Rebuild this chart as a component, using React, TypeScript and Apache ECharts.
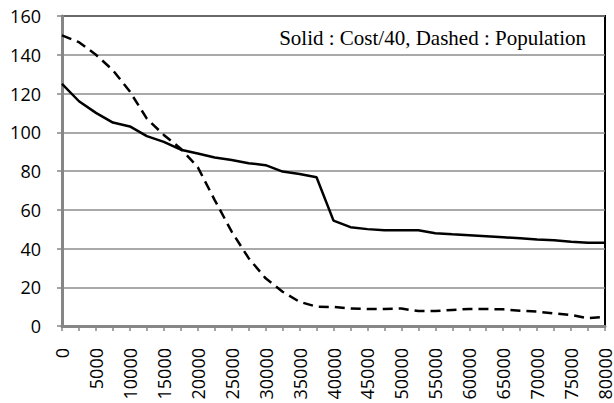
import React, { useEffect, useRef } from "react";
import * as echarts from "echarts";

const categories: string[] = [
  "0", "2500", "5000", "7500", "10000", "12500", "15000", "17500", "20000",
  "22500", "25000", "27500", "30000", "32500", "35000", "37500", "40000",
  "42500", "45000", "47500", "50000", "52500", "55000", "57500", "60000",
  "62500", "65000", "67500", "70000", "72500", "75000", "77500", "80000",
];

const costOver40: number[] = [
  125, 116, 110, 105, 103, 98, 95, 91, 89, 87, 85.7, 84, 83, 79.7, 78.5, 76.8,
  54.4, 51, 50, 49.4, 49.4, 49.4, 47.9, 47.3, 46.8, 46.3, 45.8, 45.3, 44.7,
  44.2, 43.5, 43, 43,
];

const population: number[] = [
  150, 146.5, 140, 132, 121, 107, 98.6, 91.5, 82, 65, 48.7, 35, 24.6, 17.7,
  12.5, 10, 9.8, 9.1, 8.8, 8.8, 9, 7.7, 7.7, 8.3, 8.8, 8.8, 8.6, 7.9, 7.4, 6.5,
  5.7, 4, 4.8,
];

const legendText = "Solid : Cost/40, Dashed : Population";

export default function App() {
  const ref = useRef<HTMLDivElement>(null);
  useEffect(() => {
    if (!ref.current) return;
    const chart = echarts.init(ref.current, null, { renderer: "svg" });
    const labelFont = '"Open Sans", "Noto Sans", sans-serif';
    chart.setOption({
      animation: false,
      backgroundColor: "#ffffff",
      grid: {
        left: 62,
        right: 9,
        top: 16,
        bottom: 77,
        containLabel: false,
        outerBoundsMode: "none",
        show: true,
        borderColor: "#000000",
        borderWidth: 2,
        backgroundColor: "transparent",
      },
      xAxis: {
        type: "category",
        data: categories,
        boundaryGap: false,
        axisLine: { show: true, lineStyle: { color: "#868686", width: 3 } },
        axisTick: {
          show: true,
          interval: 0,
          length: 5,
          lineStyle: { color: "#868686", width: 1.5 },
        },
        axisLabel: {
          interval: 1,
          rotate: 90,
          margin: 22,
          color: "#000000",
          fontSize: 18,
          fontFamily: labelFont,
        },
        splitLine: { show: false },
      },
      yAxis: {
        type: "value",
        min: 0,
        max: 160,
        interval: 20,
        axisLine: { show: true, lineStyle: { color: "#868686", width: 3 } },
        axisTick: {
          show: true,
          length: 5,
          lineStyle: { color: "#868686", width: 1.5 },
        },
        axisLabel: {
          margin: 21,
          color: "#000000",
          fontSize: 18,
          fontFamily: labelFont,
        },
        splitLine: { show: true, lineStyle: { color: "#8c8c8c", width: 1.5 } },
      },
      series: [
        {
          type: "line",
          name: "Cost/40",
          data: costOver40,
          symbol: "none",
          lineStyle: { color: "#000000", width: 2.5, type: "solid" },
          z: 3,
        },
        {
          type: "line",
          name: "Population",
          data: population,
          symbol: "none",
          lineStyle: { color: "#000000", width: 2.5, type: [10, 6] },
          z: 3,
        },
      ],
      graphic: [
        {
          type: "text",
          x: 586,
          y: 38,
          z: 10,
          style: {
            text: legendText,
            textAlign: "right",
            textVerticalAlign: "middle",
            fill: "#000000",
            font: '21px "Liberation Serif", "DejaVu Serif", serif',
          },
        },
      ],
    });
    return () => chart.dispose();
  }, []);
  return (
    <div
      ref={ref}
      style={{ position: "fixed", left: 0, top: 0, width: 614, height: 403 }}
    />
  );
}
